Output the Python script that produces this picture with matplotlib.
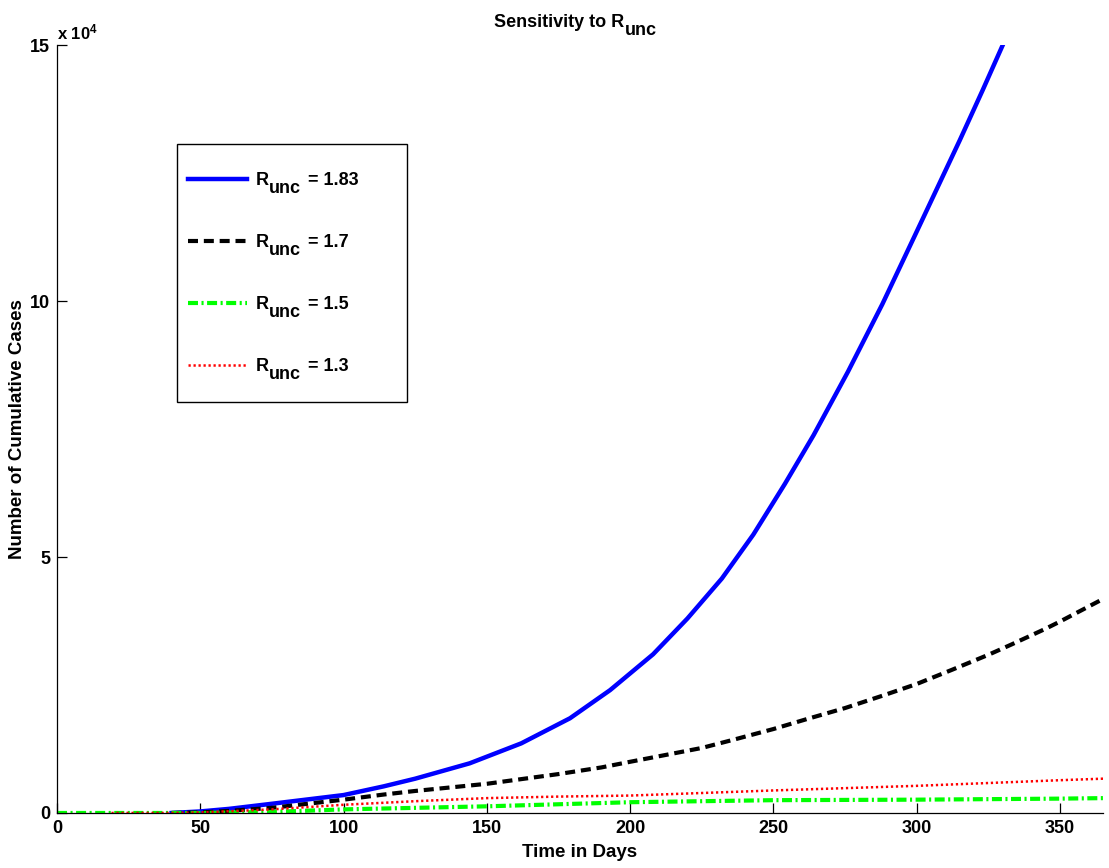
import matplotlib
matplotlib.use("Agg")
import matplotlib.pyplot as plt
from matplotlib.patches import Rectangle
from matplotlib.ticker import FixedLocator, FuncFormatter

plt.rcParams['font.family'] = ['Liberation Sans', 'DejaVu Sans']
plt.rcParams['font.weight'] = 'bold'
plt.rcParams['mathtext.fontset'] = 'custom'
plt.rcParams['mathtext.rm'] = 'Liberation Sans:bold'
plt.rcParams['mathtext.it'] = 'Liberation Sans:bold'
plt.rcParams['mathtext.bf'] = 'Liberation Sans:bold'

# ---- data ----
days_183 = [40, 50, 60, 75, 100, 114, 125, 144, 162, 179, 193, 208, 220, 232, 243,
            254, 264, 276, 288, 299, 315, 323, 330]
cases_183 = [0, 300, 800, 1800, 3500, 5200, 6700, 9700, 13600, 18500, 24000, 31000,
             38000, 45800, 54400, 64300, 73800, 86200, 99400, 112400, 131400, 141200, 150000]

days_17 = [40, 50, 60, 75, 100, 114, 125, 150, 175, 190, 200, 213, 225, 236, 250, 262,
           275, 288, 300, 312, 325, 333, 345, 350, 365]
cases_17 = [0, 100, 400, 1000, 2600, 3600, 4300, 5700, 7600, 8900, 10000, 11400, 12700,
            14300, 16400, 18400, 20500, 22900, 25200, 27900, 30900, 32900, 36000, 37400, 41800]

days_15 = [0, 50, 75, 100, 125, 150, 175, 200, 250, 300, 350, 365]
cases_15 = [0, 0, 200, 700, 1000, 1300, 1700, 2100, 2500, 2600, 2800, 2900]

days_13 = [19, 40, 50, 75, 100, 125, 150, 175, 200, 250, 300, 350, 365]
cases_13 = [0, 0, 100, 700, 1600, 2300, 2900, 3200, 3400, 4400, 5300, 6400, 6700]

r_values = ['1.83', '1.7', '1.5', '1.3']
x_ticks = [0, 50, 100, 150, 200, 250, 300, 350]
y_ticks = [0, 50000, 100000, 150000]

FS = 13
# ---- figure ----
fig = plt.figure(figsize=(11.09, 8.68), dpi=100)
ax = fig.add_axes([0.0514, 0.0634, 0.9432, 0.8846])

l1, = ax.plot(days_183, cases_183, color=(0, 0, 1), lw=3.2)
l2, = ax.plot(days_17, cases_17, color='black', lw=3, dashes=(2.4, 1.4))
l3, = ax.plot(days_15, cases_15, color=(0, 1, 0), lw=3, dashes=(2.4, 0.84, 0.5, 0.84))
l4, = ax.plot(days_13, cases_13, color=(1, 0, 0), lw=1.8, dashes=(0.9, 1.1))

ax.set_xlim(0, 365)
ax.set_ylim(0, 150000)
ax.xaxis.set_major_locator(FixedLocator(x_ticks))
ax.yaxis.set_major_locator(FixedLocator(y_ticks))
ax.yaxis.set_major_formatter(FuncFormatter(lambda v, p: f"{v/1e4:g}"))
ax.tick_params(direction='in', length=7, width=0.9, labelsize=FS, pad=5)
for lab in ax.get_xticklabels() + ax.get_yticklabels():
    lab.set_fontweight('bold')
ax.spines['top'].set_visible(False)
ax.spines['right'].set_visible(False)
for s in ('left', 'bottom'):
    ax.spines[s].set_linewidth(0.9)

ax.text(0.0, 1.003, r'x 10$^{4}$', transform=ax.transAxes, ha='left', va='bottom',
        fontsize=12, fontweight='bold')

# title with full-size lowered subscript
t_main = fig.text(494 / 1109, 1 - 27 / 868, 'Sensitivity to R', ha='left', va='baseline',
                  fontsize=FS, fontweight='bold')
ax.annotate('unc', xy=(1, 0), xycoords=t_main, xytext=(0.5, -5.5), textcoords='offset points',
            ha='left', va='bottom', fontsize=FS, fontweight='bold', annotation_clip=False)

ax.set_xlabel('Time in Days', fontsize=13.5, fontweight='bold', labelpad=5)
ax.set_ylabel('Number of Cumulative Cases', fontsize=13.5, fontweight='bold', labelpad=3)

# legend
leg = ax.legend(handles=[l1, l2, l3, l4], labels=['R'] * 4, loc='upper left',
                bbox_to_anchor=(0.1147, 0.849), borderaxespad=0, frameon=False,
                fontsize=FS, handlelength=3.3, handletextpad=0.45, labelspacing=2.5,
                borderpad=0.6)
ax.add_patch(Rectangle((0.1147, 0.535), 0.2199, 0.336, transform=ax.transAxes,
                       fill=False, edgecolor='black', lw=1.0, zorder=5))
for txt, val in zip(leg.get_texts(), r_values):
    sub = ax.annotate('unc', xy=(1, 0), xycoords=txt, xytext=(0.5, -5.5),
                      textcoords='offset points', ha='left', va='bottom', fontsize=FS,
                      fontweight='bold', zorder=6, annotation_clip=False)
    ax.annotate(f' = {val}', xy=(1, 0), xycoords=sub, xytext=(1.0, 5.5),
                textcoords='offset points', ha='left', va='bottom', fontsize=FS,
                fontweight='bold', zorder=7, annotation_clip=False)

fig.savefig('out.png', dpi=100)
